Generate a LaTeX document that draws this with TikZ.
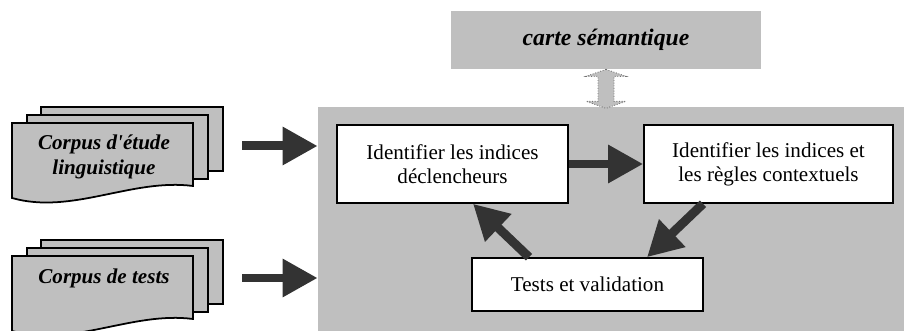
\documentclass[tikz,border=0pt]{standalone}
\usepackage{fontspec}
\setmainfont{Liberation Serif}
\usetikzlibrary{arrows.meta,calc}

\colorlet{mygrey}{black!25}
\definecolor{mydark}{HTML}{333333}
\colorlet{mydots}{black!55}
\newcommand{\txt}{\fontsize{12pt}{13.8pt}\selectfont}
\tikzset{
  >={Triangle[length=0.7cm,width=0.72cm]},
  stepbox/.style={draw,line width=0.9pt,fill=white,align=center,
    minimum width=4.62cm,minimum height=1.56cm,inner sep=0pt,font=\txt},
  mapbox/.style={fill=mygrey,minimum width=6.2cm,minimum height=1.16cm,
    inner sep=0pt,font=\fontsize{13.5pt}{15pt}\selectfont\bfseries\itshape},
  panel/.style={fill=mygrey,minimum width=11.72cm,minimum height=4.48cm,inner sep=0pt},
  bigarrow/.style={->,draw=mydark,line width=0.18cm},
  dblarrow/.style={fill=mygrey,draw=mydots,densely dotted,line width=0.5pt},
  docpage/.style={draw,line width=1pt,fill=mygrey},
  doclabel/.style={align=center,font=\txt\bfseries\itshape},
  docstack/.pic={
    \draw[docpage] (29,-16) rectangle (211,48);
    \draw[docpage] (15,-8) rectangle (196,56);
    \draw[docpage] (0,0) -- (181,0) -- (181,63)
      .. controls (120,55) and (60,92) .. (0,75) -- cycle;
  },
}

\begin{document}
\begin{tikzpicture}[x=0.02cm,y=-0.02cm]
  \useasboundingbox (0,0) rectangle (904,331);
  \clip (0,0) rectangle (904,331);

  % grey working area and the map above it
  \node[panel] (process) at (611,219) {};
  \node[mapbox] (carte) at (606,40) {carte sémantique};
  \draw[dblarrow] (carte.south) -- ++(-20,7) -- ++(12,0) -- ++(0,25)
    -- ++(-12,0) -- ++(20,7) -- ++(20,-7) -- ++(-12,0) -- ++(0,-25)
    -- ++(12,0) -- cycle;

  % the two corpora
  \pic at (12,123) {docstack};
  \pic at (12,256) {docstack};
  \node[doclabel] (etude) at (104,157) {Corpus d\textquotesingle étude\\linguistique};
  \node[doclabel] (tests) at (104,278) {Corpus de tests};
  \coordinate (inA) at (242,146);
  \coordinate (inB) at (242,278);
  \draw[bigarrow] (inA) -- (inA -| process.west);
  \draw[bigarrow] (inB) -- (inB -| process.west);

  % steps
  \node[stepbox] (ident) at (452.5,164) {Identifier les indices\\déclencheurs};
  \node[stepbox,minimum width=4.98cm] (regles) at (768.5,164)
    {Identifier les indices et\\les règles contextuels};
  \node[stepbox,minimum height=1.06cm] (valid) at (587.5,284.5) {Tests et validation};

  \draw[bigarrow] (ident) -- (regles);
  \draw[bigarrow] ([xshift=-1.31cm]regles.south) -- ([xshift=1.19cm]valid.north);
  \draw[bigarrow] ([xshift=-1.17cm]valid.north) -- ([xshift=0.41cm]ident.south);
\end{tikzpicture}
\end{document}
